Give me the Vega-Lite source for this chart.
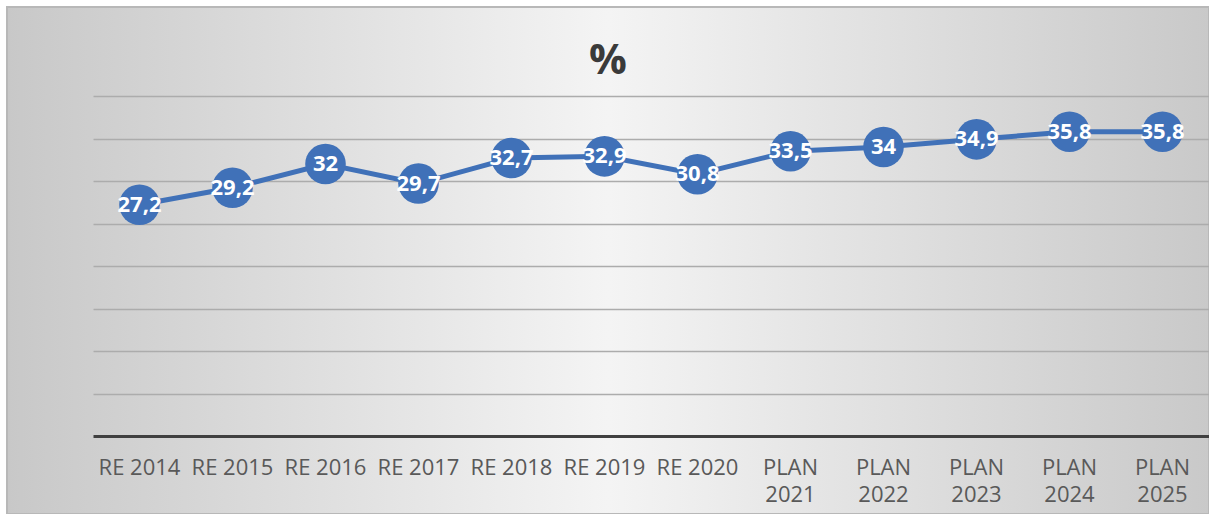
{
  "$schema": "https://vega.github.io/schema/vega-lite/v6.json",
  "autosize": {"type": "none"},
  "padding": {"left": 7, "top": 7, "right": 0, "bottom": 0},
  "width": 1202,
  "height": 507,
  "background": "#ffffff",
  "title": {
    "text": "%",
    "anchor": "middle",
    "frame": "group",
    "font": "Open Sans",
    "fontSize": 42,
    "fontWeight": "bold",
    "color": "#3a3a3a",
    "baseline": "alphabetic",
    "offset": -109
  },
  "data": {
    "values": [
      {"period": "RE 2014", "value": 27.2},
      {"period": "RE 2015", "value": 29.2},
      {"period": "RE 2016", "value": 32},
      {"period": "RE 2017", "value": 29.7},
      {"period": "RE 2018", "value": 32.7},
      {"period": "RE 2019", "value": 32.9},
      {"period": "RE 2020", "value": 30.8},
      {"period": "PLAN 2021", "value": 33.5},
      {"period": "PLAN 2022", "value": 34},
      {"period": "PLAN 2023", "value": 34.9},
      {"period": "PLAN 2024", "value": 35.8},
      {"period": "PLAN 2025", "value": 35.8}
    ]
  },
  "encoding": {
    "x": {
      "field": "period",
      "type": "nominal",
      "sort": null,
      "scale": {"type": "band", "range": [86, 1202], "paddingInner": 0, "paddingOuter": 0},
      "axis": {
        "orient": "bottom",
        "offset": -78,
        "title": null,
        "domain": true,
        "domainColor": "#404040",
        "domainWidth": 3,
        "ticks": false,
        "grid": false,
        "labelAngle": 0,
        "labelOverlap": false,
        "labelPadding": 21,
        "labelFont": "Open Sans",
        "labelFontSize": 22,
        "labelColor": "#595959",
        "labelLineHeight": 27,
        "labelBaseline": "top",
        "labelExpr": "indexof(datum.label, 'PLAN') == 0 ? split(datum.label, ' ') : datum.label"
      }
    },
    "y": {
      "field": "value",
      "type": "quantitative",
      "scale": {"domain": [0, 40], "range": [429, 89], "nice": false, "zero": true},
      "axis": {
        "title": null,
        "labels": false,
        "ticks": false,
        "domain": false,
        "grid": true,
        "values": [5, 10, 15, 20, 25, 30, 35, 40],
        "gridColor": "#acacac",
        "gridWidth": 1.5
      }
    }
  },
  "layer": [
    {"mark": {"type": "line", "color": "#4071B8", "strokeWidth": 5}},
    {"mark": {"type": "point", "filled": true, "shape": "circle", "size": 1650, "color": "#4071B8", "opacity": 1}},
    {
      "mark": {"type": "text", "color": "#ffffff", "font": "Open Sans", "fontSize": 22, "fontWeight": "bold", "align": "center", "baseline": "middle"},
      "encoding": {"text": {"field": "value", "type": "quantitative", "format": "~g"}}
    }
  ],
  "config": {
    "locale": {"number": {"decimal": ",", "thousands": ".", "grouping": [3], "currency": ["", " €"]}},
    "view": {
      "fill": {
        "gradient": "linear", "x1": 0, "y1": 0, "x2": 1, "y2": 0,
        "stops": [
          {"offset": 0, "color": "#c8c8c8"},
          {"offset": 0.5, "color": "#f4f4f4"},
          {"offset": 1, "color": "#c9c9c9"}
        ]
      },
      "stroke": "#b8b8b8",
      "strokeWidth": 2
    }
  }
}
